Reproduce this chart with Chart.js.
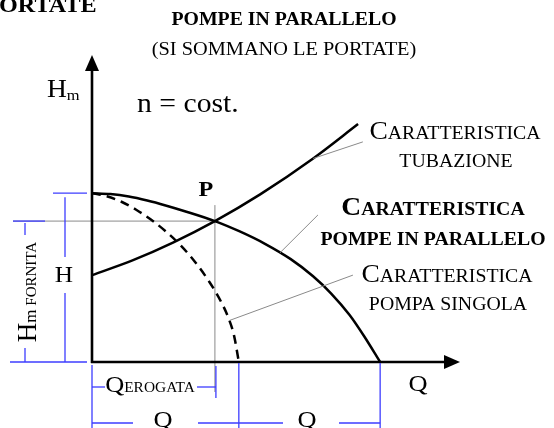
<!DOCTYPE html>
<html>
<head>
<meta charset="utf-8">
<script src="https://cdn.jsdelivr.net/npm/chart.js@4/dist/chart.umd.min.js"></script>
<style>
html,body{margin:0;padding:0;background:#fff;}
#wrap{width:554px;height:428px;position:relative;}
canvas{display:block;}
</style>
</head>
<body>
<div id="wrap"><canvas id="c" width="554" height="428"></canvas></div>
<script>
// ---- data (Q, H in arbitrary units, origin at axes crossing) ----
const qParallel = [0, 5, 10, 15, 20, 25, 33.4, 40, 47, 54, 60, 65, 70, 74, 78.3];
const hParallel = [55.0, 54.7, 53.9, 52.6, 51.0, 49.2, 45.9, 42.6, 38.5, 33.5, 28.0, 22.3, 15.3, 8.3, 0];

const qSingle = [0, 4, 8, 12, 16, 20, 24, 28, 32, 35, 37, 38.6, 39.9];
const hSingle = [55.0, 54.0, 52.2, 49.6, 46.4, 42.6, 38.1, 32.6, 25.9, 19.8, 14.6, 8.6, 0];

const qPipe = [0, 11, 22, 33.4, 45.7, 60.1, 72.3];
const hPipe = [28.3, 33.1, 38.9, 45.9, 54.6, 66.3, 77.5];

const pointP = {q: 33.4, h: 45.9};
const axisMax = {q: 100, h: 100};

const toXY = (xs, ys) => xs.map((x, i) => ({x: x, y: ys[i]}));

const SX = 1.1; // horizontal text stretch seen in the reference
const SERIF = '"Liberation Serif", "Times New Roman", serif';
const BLUE = '#3c3cff';
const GRAY = '#8a8a8a';

function runsWidth(ctx, parts) {
  let w = 0;
  for (const p of parts) { ctx.font = p[1]; w += ctx.measureText(p[0]).width * SX; }
  return w;
}
function drawRuns(ctx, parts, x, y, align) {
  ctx.save();
  const w = runsWidth(ctx, parts);
  let cx = align === 'center' ? x - w / 2 : (align === 'right' ? x - w : x);
  ctx.fillStyle = '#000';
  ctx.textBaseline = 'alphabetic';
  ctx.textAlign = 'left';
  for (const p of parts) {
    ctx.font = p[1];
    const pw = ctx.measureText(p[0]).width * SX;
    ctx.save();
    ctx.translate(cx, y + (p[2] || 0));
    ctx.scale(SX, 1);
    ctx.fillText(p[0], 0, 0);
    ctx.restore();
    cx += pw;
  }
  ctx.restore();
}
function f(size, bold) { return (bold ? 'bold ' : '') + size + 'px ' + SERIF; }

function seg(ctx, x1, y1, x2, y2, color, w) {
  ctx.save();
  ctx.strokeStyle = color; ctx.lineWidth = w;
  ctx.beginPath(); ctx.moveTo(x1, y1); ctx.lineTo(x2, y2); ctx.stroke();
  ctx.restore();
}

const axesPlugin = {
  id: 'axesPlugin',
  beforeDatasetsDraw(chart) {
    const ctx = chart.ctx;
    const xs = chart.scales.x, ys = chart.scales.y;
    const x0 = xs.getPixelForValue(0), y0 = ys.getPixelForValue(0);
    const xe = xs.getPixelForValue(axisMax.q), ye = ys.getPixelForValue(axisMax.h);
    // reference lines through P
    const XP = xs.getPixelForValue(pointP.q), YP = ys.getPixelForValue(pointP.h);
    seg(ctx, 13, YP, XP, YP, GRAY, 1);
    seg(ctx, XP, YP - 16, XP, y0 + 30, GRAY, 1);
    // axes
    ctx.save();
    ctx.strokeStyle = '#000'; ctx.lineWidth = 2.6; ctx.lineCap = 'butt';
    ctx.beginPath();
    ctx.moveTo(x0, y0 + 1); ctx.lineTo(x0, ye + 12);
    ctx.moveTo(x0 - 1, y0); ctx.lineTo(xe - 12, y0);
    ctx.stroke();
    ctx.fillStyle = '#000';
    ctx.beginPath();
    ctx.moveTo(x0, ye); ctx.lineTo(x0 - 7, ye + 16); ctx.lineTo(x0 + 7, ye + 16); ctx.closePath(); ctx.fill();
    ctx.beginPath();
    ctx.moveTo(xe, y0); ctx.lineTo(xe - 16, y0 - 7); ctx.lineTo(xe - 16, y0 + 7); ctx.closePath(); ctx.fill();
    ctx.restore();
  },
  afterDatasetsDraw(chart) {
    const ctx = chart.ctx;
    const xs = chart.scales.x, ys = chart.scales.y;
    const X = v => xs.getPixelForValue(v), Y = v => ys.getPixelForValue(v);
    const x0 = X(0), y0 = Y(0);
    const XP = X(pointP.q), YP = Y(pointP.h);
    const Ytop = Y(hParallel[0]);
    const Xs = X(qSingle[qSingle.length - 1]);
    const Xpar = X(qParallel[qParallel.length - 1]);

    // leader lines (from curve point to label)
    seg(ctx, X(60.1), Y(66.3), X(73.6), Y(71.7), GRAY, 1);
    seg(ctx, X(51.1), Y(35.6), X(61.4), Y(47.9), GRAY, 1);
    seg(ctx, X(37.3), Y(13.5), X(70.9), Y(28.3), GRAY, 1);

    // blue dimension lines
    const bw = 1.3;
    seg(ctx, 53, Ytop, 87, Ytop, BLUE, bw);
    seg(ctx, 65, Ytop + 4, 65, 257, BLUE, bw);
    seg(ctx, 65, 293, 65, y0, BLUE, bw);
    seg(ctx, 13, YP, 45, YP, BLUE, bw);
    seg(ctx, 25, YP + 2, 25, 235, BLUE, bw);
    seg(ctx, 25, 348, 25, y0, BLUE, bw);
    seg(ctx, 10, y0, 87, y0, BLUE, bw);
    seg(ctx, x0, y0 + 3, x0, 428, BLUE, bw);
    seg(ctx, x0, 387, 105, 387, BLUE, bw);
    seg(ctx, 197, 387, XP + 1, 387, BLUE, bw);
    seg(ctx, XP + 1, y0 + 4, XP + 1, 398, BLUE, bw);
    seg(ctx, x0, 423, 133, 423, BLUE, bw);
    seg(ctx, 198, 423, Xs, 423, BLUE, bw);
    seg(ctx, Xs, y0 + 1, Xs, 428, BLUE, bw);
    seg(ctx, Xs, 423, 283, 423, BLUE, bw);
    seg(ctx, 339, 423, Xpar, 423, BLUE, bw);
    seg(ctx, Xpar, y0 + 1, Xpar, 428, BLUE, bw);

    // texts
    drawRuns(ctx, [['ORTATE', f(22, true)]], -1, 12, 'left');
    drawRuns(ctx, [['POMPE IN PARALLELO', f(18, true)]], 284, 25, 'center');
    drawRuns(ctx, [['(SI SOMMANO LE PORTATE)', f(18.5)]], 284, 55, 'center');
    drawRuns(ctx, [['H', f(25)], ['m', f(15), 3]], 47, 97, 'left');
    drawRuns(ctx, [['n = cost.', f(27)]], 137, 112, 'left');
    drawRuns(ctx, [['C', f(25)], ['ARATTERISTICA', f(18)]], 455, 139, 'center');
    drawRuns(ctx, [['TUBAZIONE', f(18)]], 456, 167, 'center');
    drawRuns(ctx, [['C', f(25, true)], ['ARATTERISTICA', f(18, true)]], 433, 215, 'center');
    drawRuns(ctx, [['POMPE IN PARALLELO', f(18, true)]], 433, 245, 'center');
    drawRuns(ctx, [['C', f(25)], ['ARATTERISTICA', f(18)]], 447, 282, 'center');
    drawRuns(ctx, [['POMPA SINGOLA', f(18)]], 448, 310, 'center');
    drawRuns(ctx, [['P', f(22, true)]], XP - 9, YP - 25, 'center');
    drawRuns(ctx, [['H', f(23)]], 64, 282, 'center');
    drawRuns(ctx, [['Q', f(24)]], 418, 391, 'center');
    drawRuns(ctx, [['Q', f(24)], ['EROGATA', f(14)]], 150, 392, 'center');
    drawRuns(ctx, [['Q', f(24)]], 163, 427, 'center');
    drawRuns(ctx, [['Q', f(24)]], 307, 427, 'center');

    // rotated H_m FORNITA
    ctx.save();
    ctx.translate(36, 292);
    ctx.rotate(-Math.PI / 2);
    const parts = [['H', f(27)], ['m', f(17), 0], [' FORNITA', f(15)]];
    let w = 0;
    for (const p of parts) { ctx.font = p[1]; w += ctx.measureText(p[0]).width; }
    let cx = -w / 2;
    ctx.fillStyle = '#000';
    for (const p of parts) { ctx.font = p[1]; ctx.fillText(p[0], cx, p[2] || 0); cx += ctx.measureText(p[0]).width; }
    ctx.restore();
  }
};

new Chart(document.getElementById('c'), {
  type: 'scatter',
  data: {
    datasets: [
      {label: 'Caratteristica pompe in parallelo', data: toXY(qParallel, hParallel), showLine: true,
       borderColor: '#000', borderWidth: 2.5, pointRadius: 0, cubicInterpolationMode: 'monotone', clip: false},
      {label: 'Caratteristica pompa singola', data: toXY(qSingle, hSingle), showLine: true,
       borderColor: '#000', borderWidth: 2.5, borderDash: [9, 6], pointRadius: 0, cubicInterpolationMode: 'monotone', clip: false},
      {label: 'Caratteristica tubazione', data: toXY(qPipe, hPipe), showLine: true,
       borderColor: '#000', borderWidth: 2.5, pointRadius: 0, cubicInterpolationMode: 'monotone', clip: false}
    ]
  },
  options: {
    responsive: false,
    animation: false,
    devicePixelRatio: 1,
    layout: {padding: {left: 92, right: 94, top: 55, bottom: 66}},
    plugins: {legend: {display: false}, tooltip: {enabled: false}},
    scales: {
      x: {type: 'linear', min: 0, max: axisMax.q, display: false},
      y: {type: 'linear', min: 0, max: axisMax.h, display: false}
    }
  },
  plugins: [axesPlugin]
});
</script>
</body>
</html>
